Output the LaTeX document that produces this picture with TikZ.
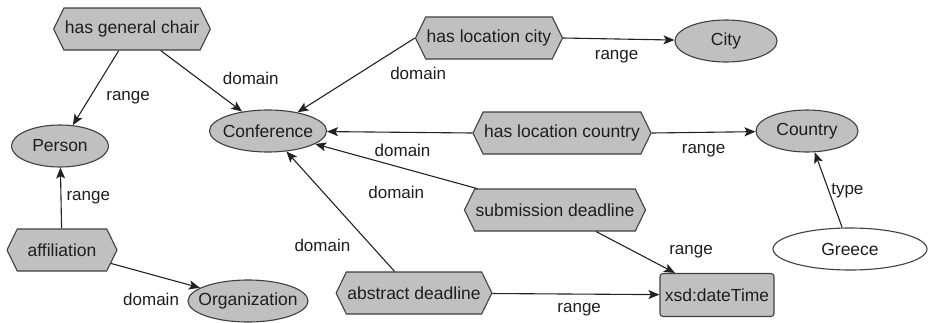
\documentclass[tikz,border=0pt]{standalone}
\usepackage{fontspec}
\setmainfont{Liberation Sans}
\usepackage{xcolor}
\definecolor{clFill}{HTML}{C0C0C0}
\definecolor{clBorder}{HTML}{404040}
\definecolor{clEdge}{HTML}{222222}
\definecolor{clText}{HTML}{1E1E1E}
\usetikzlibrary{arrows.meta,positioning,shapes.geometric,shapes.symbols}
\tikzset{
  base/.style={draw=clBorder, line width=1.1pt, text=clText, font=\fontsize{17.5}{20}\selectfont},
  cls/.style={base, ellipse, fill=clFill, inner xsep=-14pt, inner ysep=0pt, minimum height=42pt},
  inst/.style={cls, fill=white},
  prop/.style={base, signal, signal to=east and west, signal pointer angle=128,
               fill=clFill, inner xsep=1pt, inner ysep=0pt, minimum height=42pt},
  dtype/.style={base, rectangle, rounded corners=3pt, fill=clFill, inner sep=1pt,
                minimum width=114pt, minimum height=43pt},
  link/.style={-{Stealth[length=11pt, width=9pt, inset=2.5pt]}, line width=1.1pt, draw=clEdge},
  lbl/.style={font=\fontsize{17}{20}\selectfont, text=clText, inner sep=1pt},
}
\begin{document}
\begin{tikzpicture}[x=1pt, y=-1pt]
  \useasboundingbox (0,0) rectangle (930,322);
  % classes
  \node[cls, minimum width=97pt] (person) at (60,146) {Person};
  \node[cls, minimum width=117pt] (conf) at (268,131) {Conference};
  \node[cls, minimum width=102pt] (city) at (726,41) {City};
  \node[cls, minimum width=102pt] (country) at (807,131) {Country};
  \node[cls, minimum width=120pt] (org) at (248,301) {Organization};
  \node[inst, minimum width=154pt] (greece) at (850,249) {Greece};
  \node[dtype] (xsd) at (717,295) {xsd:dateTime};
  % properties
  \node[prop] (chair) at (132,29) {has general chair};
  \node[prop] (lcity) at (489,38) {has location city};
  \node[prop] (lcountry) at (562,133) {has location country};
  \node[prop] (subm) at (555,210) {submission deadline};
  \node[prop] (abstr) at (414,293) {abstract deadline};
  \node[prop, minimum width=110pt] (affil) at (62,250) {affiliation};
  % edges
  \draw[link] (chair) -- node[lbl, pos=.63, right=15pt] {range} (person);
  \draw[link] (chair) -- node[lbl, pos=.45, right=24pt] {domain} (conf);
  \draw[link] (lcity.west) -- node[lbl, pos=.47, right=29pt] {domain} (conf);
  \draw[link] (lcity.east) -- node[lbl, pos=.48, below=10pt] {range} (city);
  \draw[link] (lcountry.west) -- node[lbl, pos=.48, below=10pt] {domain} (conf);
  \draw[link] (lcountry.east) -- node[lbl, pos=.5, below=10pt] {range} (country);
  \draw[link] (subm) -- node[lbl, pos=.5, below=18pt] {domain} (conf);
  \draw[link] (subm) -- node[lbl, pos=.49, right=33pt] {range} (xsd);
  \draw[link] (abstr) -- node[lbl, pos=.22, left=19pt] {domain} (conf);
  \draw[link] (abstr) -- node[lbl, pos=.52, below=8pt] {range} (xsd);
  \draw[link] (affil) -- node[lbl, pos=.5, right=4pt] {range} (person);
  \draw[link] (affil) -- node[lbl, pos=.45, below=17pt] {domain} (org);
  \draw[link] (greece) -- node[lbl, pos=.49, right=1pt] {type} (country);
\end{tikzpicture}
\end{document}
